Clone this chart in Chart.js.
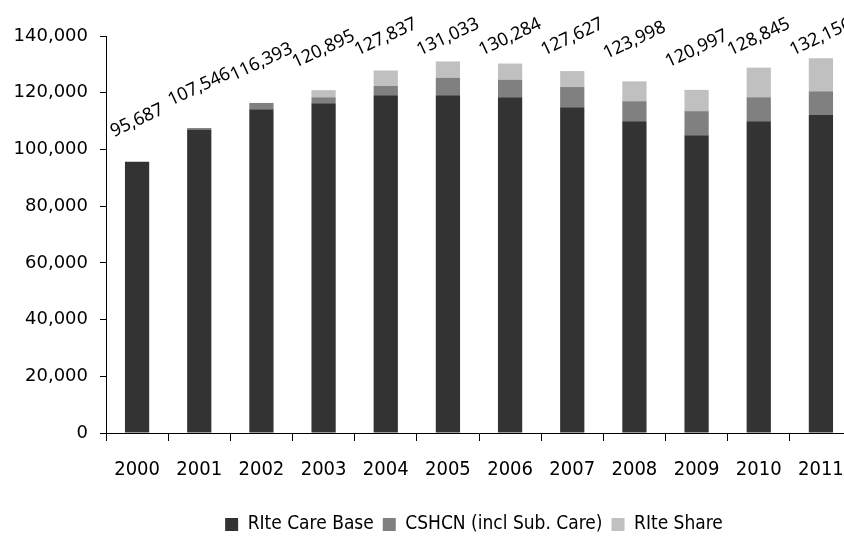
<!DOCTYPE html>
<html>
<head>
<meta charset="utf-8">
<script src="https://cdn.jsdelivr.net/npm/chart.js@4.4.0/dist/chart.umd.min.js"></script>
<style>
  html, body { margin: 0; padding: 0; background: #fff; overflow: hidden; }
  #wrap { width: 948px; height: 538px; }
</style>
</head>
<body>
<div id="wrap"><canvas id="chart" width="948" height="538"></canvas></div>
<script>
const years = ['2000', '2001', '2002', '2003', '2004', '2005', '2006', '2007', '2008', '2009', '2010', '2011'];
const riteCareBase = [95687, 106900, 114200, 116300, 119100, 119100, 118400, 114900, 109900, 105000, 109900, 112100];
const cshcn = [0, 646, 2193, 2100, 3300, 6200, 6200, 7100, 7100, 8500, 8500, 8400];
const riteShare = [0, 0, 0, 2495, 5437, 5733, 5684, 5627, 6998, 7497, 10445, 11656];
const totals = [95687, 107546, 116393, 120895, 127837, 131033, 130284, 127627, 123998, 120997, 128845, 132156];
const yTicks = [0, 20000, 40000, 60000, 80000, 100000, 120000, 140000];

// rotated total labels above each stack
const totalLabels = {
  id: 'totalLabels',
  afterDatasetsDraw(chart) {
    const ctx = chart.ctx;
    const x = chart.scales.x;
    const y = chart.scales.y;
    ctx.save();
    ctx.font = '18px "Noto Sans"';
    ctx.fillStyle = '#000';
    ctx.textAlign = 'center';
    ctx.textBaseline = 'middle';
    totals.forEach((t, i) => {
      const px = x.getPixelForValue(i);
      const py = Math.max(y.getPixelForValue(t) - 41, 37);
      ctx.save();
      ctx.translate(px, py);
      ctx.rotate(-25 * Math.PI / 180);
      ctx.fillText(t.toLocaleString('en-US'), 0, 0);
      ctx.restore();
    });
    ctx.restore();
  }
};

new Chart(document.getElementById('chart'), {
  type: 'bar',
  data: {
    labels: years,
    datasets: [
      { label: 'RIte Care Base', data: riteCareBase, backgroundColor: '#333333' },
      { label: 'CSHCN (incl Sub. Care)', data: cshcn, backgroundColor: '#808080' },
      { label: 'RIte Share', data: riteShare, backgroundColor: '#c0c0c0' }
    ]
  },
  options: {
    responsive: false,
    animation: false,
    devicePixelRatio: 1,
    layout: { padding: { left: 0, right: 0, top: 36, bottom: -6 } },
    datasets: { bar: { barPercentage: 0.39, categoryPercentage: 1 } },
    scales: {
      x: {
        stacked: true,
        grid: { drawOnChartArea: false, drawTicks: true, tickLength: 8, color: '#000' },
        border: { color: '#000' },
        ticks: { color: '#000', padding: 17, font: { family: '"DejaVu Sans Condensed", "DejaVu Sans"', size: 20 } },
        afterFit(scale) { scale.height = 73; }
      },
      y: {
        stacked: true,
        min: 0,
        max: 140000,
        afterBuildTicks(scale) { scale.ticks = yTicks.map(v => ({ value: v })); },
        grid: { drawOnChartArea: false, drawTicks: true, tickLength: 6, color: '#000' },
        border: { color: '#000' },
        ticks: { color: '#000', padding: 12, font: { family: '"DejaVu Sans"', size: 18 } },
        afterFit(scale) { scale.width = 106; }
      },
      // empty space on the right, the picture is cut off there
      spacer: {
        type: 'linear',
        position: 'right',
        grid: { display: false },
        border: { display: false },
        ticks: { display: false },
        afterFit(scale) { scale.width = 96; }
      }
    },
    plugins: {
      legend: {
        position: 'bottom',
        labels: {
          boxWidth: 13,
          boxHeight: 13,
          padding: 9,
          color: '#000',
          font: { family: '"DejaVu Sans Condensed", "DejaVu Sans"', size: 19 }
        }
      },
      tooltip: { enabled: false }
    }
  },
  plugins: [totalLabels]
});
</script>
</body>
</html>
